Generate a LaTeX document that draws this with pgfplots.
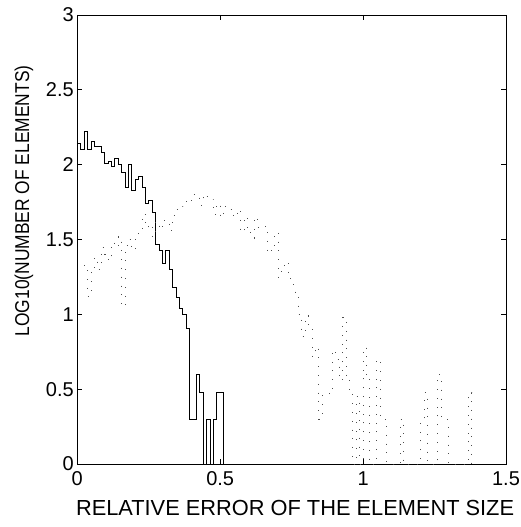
\documentclass[border=0pt]{standalone}
\usepackage{pgfplots}
\pgfplotsset{compat=1.18}
\usepackage{graphicx}
\usepackage{fontspec}
\setmainfont{Liberation Sans}
\begin{document}
\begin{tikzpicture}
\begin{axis}[
  scale only axis,
  width=428.7pt, height=449pt,
  xmin=0, xmax=1.5, ymin=0, ymax=3,
  xtick={0,0.5,1,1.5}, ytick={0,0.5,1,1.5,2,2.5,3},
  /pgf/number format/assume math mode=true,
  tick align=inside, tick pos=both,
  major tick length=5pt,
  axis line style={line width=0.7pt},
  tick style={line width=0.7pt, black},
  every tick label/.append style={font=\fontsize{20}{24}\selectfont},
  xticklabel style={yshift=-4pt},
  xlabel style={font=\fontsize{21.8}{25}\selectfont, at={(axis description cs:0.508,0)}, anchor=north, yshift=-33pt},
  ylabel style={font=\fontsize{20}{24}\selectfont, at={(axis description cs:-0.1243,0.586)}, anchor=center},
  xlabel={RELATIVE ERROR OF THE ELEMENT SIZE},
  ylabel={\scalebox{0.87}[1]{LOG10(NUMBER OF ELEMENTS)}},
  clip=true,
]
% solid histogram (stairs)
\addplot[const plot, black, line width=0.8pt] coordinates {
(0,2.14) (0.0119,2.10) (0.0238,2.22) (0.0357,2.10) (0.0476,2.155) (0.0595,2.12)
(0.0714,2.12) (0.0833,2.08) (0.0952,2.01) (0.1071,2.02) (0.1190,1.99) (0.1309,2.04)
(0.1428,2.00) (0.1547,1.95) (0.1666,1.85) (0.1785,2.00) (0.1904,1.83) (0.2023,1.90)
(0.2142,1.92) (0.2261,1.85) (0.2380,1.74) (0.2499,1.76) (0.2618,1.68) (0.2737,1.47)
(0.2856,1.43) (0.2975,1.34) (0.3094,1.43) (0.3213,1.30) (0.3332,1.18) (0.3451,1.11)
(0.3570,1.04) (0.3689,1.00) (0.3808,0.903) (0.3927,0.301) (0.4046,0.301) (0.4165,0.602)
(0.4284,0.477) (0.4403,0) (0.4522,0.301) (0.4641,0) (0.4760,0.301) (0.4879,0.477)
(0.4998,0.477) (0.5117,0.477) (0.5117,0)
};
% dotted histogram (stairs)
\addplot[const plot, black!70, line width=0.75pt, dash pattern=on 0.8pt off 8pt] coordinates {
(0.0238,1.33) (0.0357,1.12) (0.0476,1.30) (0.0595,1.38) (0.0714,1.30) (0.0833,1.45)
(0.0952,1.40) (0.1071,1.36) (0.1190,1.48) (0.1309,1.45) (0.1428,1.52) (0.1547,1.05)
(0.1666,1.46) (0.1785,1.50) (0.1904,1.43) (0.2023,1.52) (0.2142,1.55) (0.2261,1.67)
(0.2380,1.58) (0.2499,1.60) (0.2618,1.52) (0.2737,1.62) (0.2856,1.57) (0.2975,1.63)
(0.3094,1.62) (0.3213,1.56) (0.3332,1.66) (0.3451,1.70) (0.3570,1.72) (0.3689,1.75)
(0.3808,1.77) (0.3927,1.76) (0.4046,1.80) (0.4165,1.78) (0.4284,1.73) (0.4403,1.80)
(0.4522,1.79) (0.4641,1.77) (0.4760,1.67) (0.4879,1.74) (0.4998,1.65) (0.5117,1.72)
(0.5236,1.70) (0.5355,1.70) (0.5474,1.65) (0.5593,1.70) (0.5712,1.55) (0.5831,1.65)
(0.5950,1.58) (0.6069,1.51) (0.6188,1.65) (0.6307,1.58) (0.6426,1.58) (0.6545,1.59)
(0.6664,1.41) (0.6783,1.46) (0.6902,1.55) (0.7021,1.25) (0.7140,1.31) (0.7259,1.35)
(0.7378,1.24) (0.7497,1.20) (0.7616,1.14) (0.7735,1.00) (0.7854,0.85) (0.7973,0.99)
(0.8092,0.90) (0.8211,0.72) (0.8330,0.78) (0.8449,0.30) (0.8568,0.46) (0.8687,0.46)
(0.8806,0.49) (0.8925,0.76) (0.9044,0.70) (0.9163,0.56) (0.9282,0.98) (0.9401,0.56)
(0.9520,0.48) (0.9639,0) (0.9758,0.45) (0.9877,0) (0.9996,0.778) (1.0115,0.60)
(1.0234,0) (1.0353,0) (1.0472,0.699) (1.0591,0.301) (1.0710,0.301) (1.0829,0)
(1.0948,0) (1.1067,0) (1.1186,0) (1.1305,0.301) (1.1424,0) (1.1543,0) (1.1662,0)
(1.1781,0) (1.1900,0) (1.2019,0.301) (1.2138,0.477) (1.2257,0) (1.2376,0) (1.2495,0)
(1.2614,0.602) (1.2733,0.301) (1.2852,0.301) (1.2971,0) (1.3090,0) (1.3209,0)
(1.3328,0) (1.3447,0) (1.3566,0) (1.3685,0.477) (1.3804,0.477) (1.3804,0)
};
\end{axis}
\pgfresetboundingbox
\path[use as bounding box] (-77.3pt,-63pt) rectangle (442.7pt,464pt);
\end{tikzpicture}
\end{document}
